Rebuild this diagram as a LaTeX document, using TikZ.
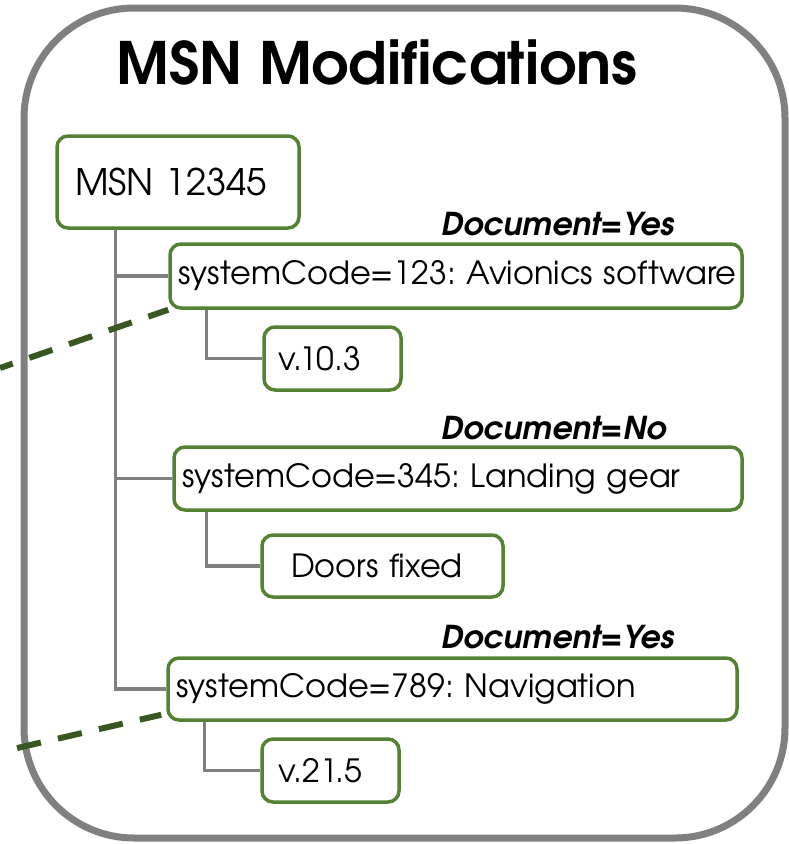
\documentclass[tikz,border=0pt]{standalone}
\usepackage{fontspec}
\setmainfont{TeX Gyre Adventor}
\definecolor{boxgreen}{HTML}{548235}
\definecolor{dashgreen}{HTML}{385723}
\definecolor{linegray}{HTML}{808080}
\begin{document}
\frenchspacing
\begin{tikzpicture}[x=1pt,y=-1pt,
  frame/.style={draw=linegray,line width=7pt,rounded corners=110pt},
  gbox/.style={draw=boxgreen,line width=3.5pt,rounded corners=11pt,fill=white,
    inner ysep=0pt,align=left,font=\fontsize{32}{38}\selectfont},
  doclabel/.style={font=\fontsize{31.5}{36}\selectfont\bfseries\itshape,inner sep=0pt,anchor=base west},
  conn/.style={draw=linegray,line width=3.5pt},
  dlink/.style={draw=dashgreen,line width=6pt,dash pattern=on 24.5pt off 17.5pt}]
\useasboundingbox (0,0) rectangle (789,844);
\draw[frame] (24,8) rectangle (785,838);
\node[font=\fontsize{58.4}{66}\selectfont\bfseries,inner sep=0pt,anchor=base] (title) at (377,84) {MSN Modifications};
% boxes: text width = W - 2*inset
\node[gbox,font=\fontsize{36.5}{42}\selectfont,minimum height=92pt,text width=206pt,inner xsep=18pt] (msn) at (178,182) {\mbox{MSN 12345}};
\node[gbox,minimum height=64pt,text width=556pt,inner xsep=8pt] (b1) at (456,276) {\mbox{systemCode=123: Avionics software}};
\node[gbox,minimum height=63pt,text width=109pt,inner xsep=14pt] (v1) at (332.5,358.5) {\mbox{v.10.3}};
\node[gbox,minimum height=63pt,text width=552pt,inner xsep=8pt] (b2) at (458,478.5) {\mbox{systemCode=345: Landing gear}};
\node[gbox,minimum height=62pt,text width=183pt,inner xsep=29pt] (d2) at (382.5,566) {\mbox{Doors fixed}};
\node[gbox,minimum height=62pt,text width=553pt,inner xsep=8pt] (b3) at (452.5,689) {\mbox{systemCode=789: Navigation}};
\node[gbox,minimum height=63pt,text width=105pt,inner xsep=16pt] (v3) at (330.5,770.5) {\mbox{v.21.5}};
% document labels
\node[doclabel] (doc1) at (441,235) {Document=Yes};
\node[doclabel] (doc2) at (441,439) {Document=No};
\node[doclabel] (doc3) at (441,648) {Document=Yes};
% connectors
\coordinate (trunk) at ([xshift=60pt]msn.south west);
\draw[conn] (trunk) |- (b3.west);
\draw[conn] (trunk |- b1.west) -- (b1.west);
\draw[conn] (trunk |- b2.west) -- (b2.west);
\draw[conn] ([xshift=38pt]b1.south west) |- (v1.west);
\draw[conn] ([xshift=34pt]b2.south west) |- (d2.west);
\draw[conn] ([xshift=38pt]b3.south west) |- (v3.west);
% dashed links
\coordinate (e1) at (0,368);
\coordinate (e3) at (0,752);
\draw[dlink,dash phase=11pt] (e1) -- (b1.south west);
\draw[dlink,dash phase=24.5pt] (e3) -- ([xshift=-5pt,yshift=7pt]b3.south west);
\end{tikzpicture}
\end{document}
